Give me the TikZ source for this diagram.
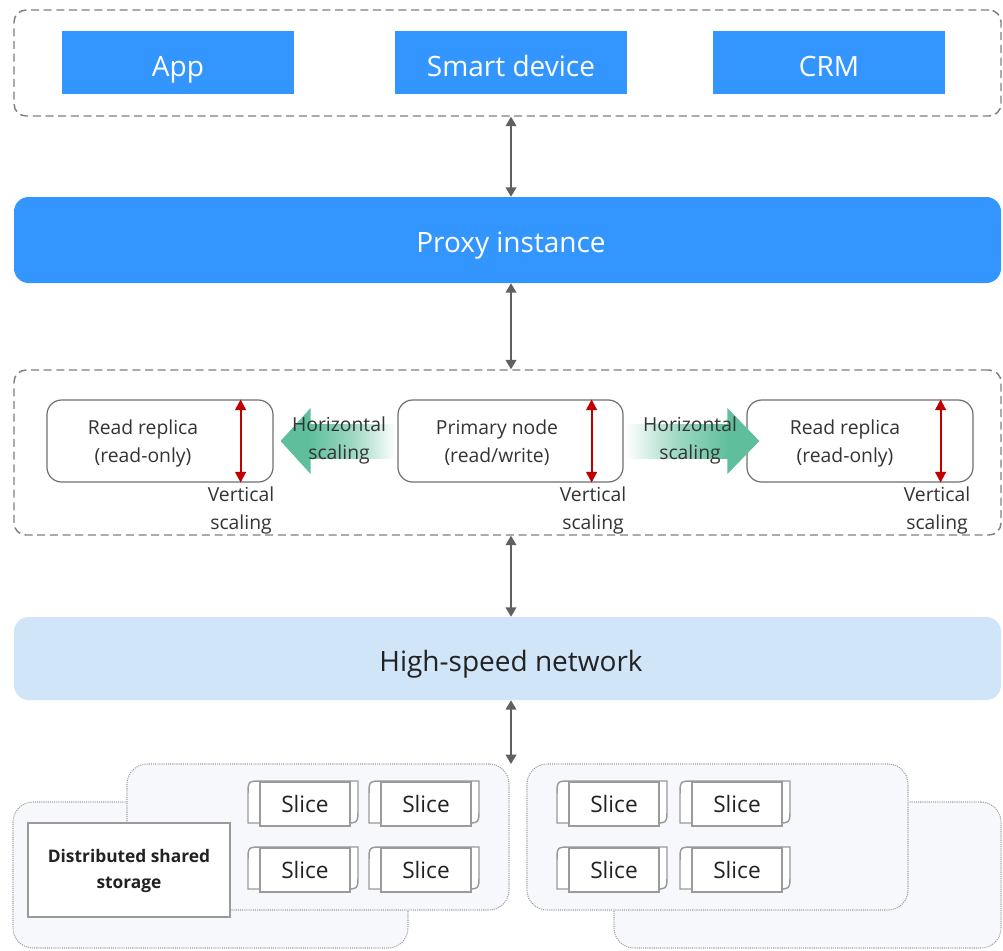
\documentclass[tikz,border=0pt]{standalone}
\usepackage{fontspec}
\setmainfont{Open Sans}
\usetikzlibrary{arrows.meta,calc,fit}
\definecolor{hwblue}{HTML}{3396FF}
\definecolor{netblue}{HTML}{D1E5F9}
\definecolor{dashgrey}{HTML}{7F7F7F}
\definecolor{boxgrey}{HTML}{6E6E6E}
\definecolor{conngrey}{HTML}{606060}
\definecolor{txt}{HTML}{333333}
\definecolor{txtdark}{HTML}{222222}
\definecolor{vred}{HTML}{C00000}
\definecolor{hgreen}{HTML}{5FBF9C}
\definecolor{storfill}{HTML}{F7F8FC}
\definecolor{dotgrey}{HTML}{A0A0A0}
\definecolor{slicegrey}{HTML}{9A9A9A}
\begin{document}
\begin{tikzpicture}[x=0.75pt,y=-0.75pt,
  dashbox/.style={draw=dashgrey, line width=1.1pt, dash pattern=on 6pt off 3.5pt, rounded corners=9pt, inner sep=0pt},
  client/.style={fill=hwblue, inner sep=0pt},
  bigtxt/.style={inner sep=0pt, anchor=base, font=\fontsize{21}{25}\selectfont},
  bar/.style={inner sep=0pt, rounded corners=11pt},
  dbnode/.style={draw=boxgrey, line width=0.9pt, rounded corners=11pt, inner sep=0pt},
  lbl/.style={text=txt, align=center, font=\fontsize{14.5}{21}\selectfont, inner sep=0pt},
  conn/.style={draw=conngrey, line width=1.1pt, {Triangle[width=8pt,length=7pt]}-{Triangle[width=8pt,length=7pt]}},
  vscale/.style={draw=vred, line width=1.5pt, {Triangle[width=8pt,length=8pt]}-{Triangle[width=8pt,length=8pt]}},
  storbox/.style={draw=dotgrey, fill=storfill, line width=0.8pt, dash pattern=on 0.8pt off 0.8pt, rounded corners=15pt, inner sep=0pt},
  slicebox/.style={draw=slicegrey, line width=1.1pt, fill=white, minimum width=67.5pt, minimum height=33pt, inner sep=0pt, font=\fontsize{17}{20}\selectfont, text=txtdark},
  sliceback/.style={draw=slicegrey, line width=1.1pt, fill=white},
  storbx/.style={draw=slicegrey, line width=0.9pt, fill=white, inner sep=0pt},
  storlbl/.style={inner sep=0pt, align=center, text=txtdark, font=\fontsize{13}{19.5}\selectfont\bfseries},
]
\useasboundingbox (0,0) rectangle (1003,950);
\coordinate (axis) at (511,0);

% ---- client layer
\node[dashbox, fit={(14,10) (1001,116)}] (clients) {};
\node[client, fit={(62,31) (294,94)}] (app) {};
\node[client, fit={(395,31) (627,94)}] (smart) {};
\node[client, fit={(713,31) (945,94)}] (crm) {};
\node[bigtxt, text=white] (appt) at (178,76) {App};
\node[bigtxt, text=white] (smartt) at (511,76) {Smart device};
\node[bigtxt, text=white] (crmt) at (829,76) {CRM};

% ---- proxy
\node[bar, fill=hwblue, fit={(14,197) (1001,283)}] (proxy) {};
\node[bigtxt, text=white] (proxyt) at (511,252) {Proxy instance};

% ---- database layer
\node[dashbox, fit={(14,370) (1001,535)}] (dblayer) {};
\node[dbnode, fit={(47,400) (273,482)}] (rr1) {};
\node[dbnode, fit={(398,400) (623,482)}] (prim) {};
\node[dbnode, fit={(747,400) (973,482)}] (rr2) {};

% horizontal scaling arrows
\shade[left color=hgreen, right color=white, middle color=hgreen!60] ($(rr1.east)+(36,-17)$) rectangle ($(prim.west)+(-1,17)$);
\fill[hgreen] ($(rr1.east)+(7,0)$) -- ($(rr1.east)+(37,-33)$) -- ($(rr1.east)+(37,33)$) -- cycle;
\shade[left color=white, right color=hgreen, middle color=hgreen!60] ($(prim.east)+(2,-17)$) rectangle ($(rr2.west)+(-18,17)$);
\fill[hgreen] ($(rr2.west)+(13,0)$) -- ($(rr2.west)+(-19,-33)$) -- ($(rr2.west)+(-19,33)$) -- cycle;

\node[lbl] (rr1t) at (143,443) {Read replica\\(read-only)};
\node[lbl] (primt) at (497,443) {Primary node\\(read/write)};
\node[lbl] (rr2t) at (845,443) {Read replica\\(read-only)};
\node[lbl] (h1) at (339,440) {Horizontal\\scaling};
\node[lbl] (h2) at (690,440) {Horizontal\\scaling};

\draw[vscale] ([xshift=-24.75pt]rr1.north east) -- ([xshift=-24.75pt]rr1.south east);
\draw[vscale] ([xshift=-24pt]prim.north east) -- ([xshift=-24pt]prim.south east);
\draw[vscale] ([xshift=-24.75pt]rr2.north east) -- ([xshift=-24.75pt]rr2.south east);
\node[lbl] (v1) at (241,510) {Vertical\\scaling};
\node[lbl] (v2) at (593,510) {Vertical\\scaling};
\node[lbl] (v3) at (937,510) {Vertical\\scaling};

% ---- network
\node[bar, fill=netblue, fit={(14,617) (1001,700)}] (net) {};
\node[bigtxt, text=txtdark] (nett) at (511,671) {High-speed network};

% ---- storage
\node[storbox, fit={(13,802) (408,948)}] (stA) {};
\node[storbox, fit={(127,764) (509,910)}] (stB) {};
\node[storbox, fit={(614,802) (1001,948)}] (stD) {};
\node[storbox, fit={(527,764) (908,910)}] (stC) {};
\coordinate (stortop) at (511,764);

\node[storbx, fit={(28,823) (230,917)}] (dss) {};
\node[storlbl] (dsst) at (129,871) {Distributed shared\\storage};

\foreach \cx/\cy/\n in {305/804/a, 426/804/b, 614/804/c, 737/804/d, 305/870/e, 426/870/f, 614/870/g, 737/870/h}{
  \draw[sliceback] ({\cx-57},{\cy+19}) -- ({\cx-57},{\cy-9}) .. controls ({\cx-57},{\cy-23}) .. ({\cx-43},{\cy-23}) -- ({\cx+53},{\cy-23}) -- ({\cx+53},{\cy+5}) .. controls ({\cx+53},{\cy+19}) .. ({\cx+39},{\cy+19}) -- cycle;
  \node[slicebox] (slice\n) at (\cx,\cy) {Slice};
}

% ---- connectors
\draw[conn] (clients.south -| axis) -- (proxy.north -| axis);
\draw[conn] (proxy.south -| axis) -- (dblayer.north -| axis);
\draw[conn] (dblayer.south -| axis) -- (net.north -| axis);
\draw[conn] (net.south -| axis) -- (stortop);
\end{tikzpicture}
\end{document}
